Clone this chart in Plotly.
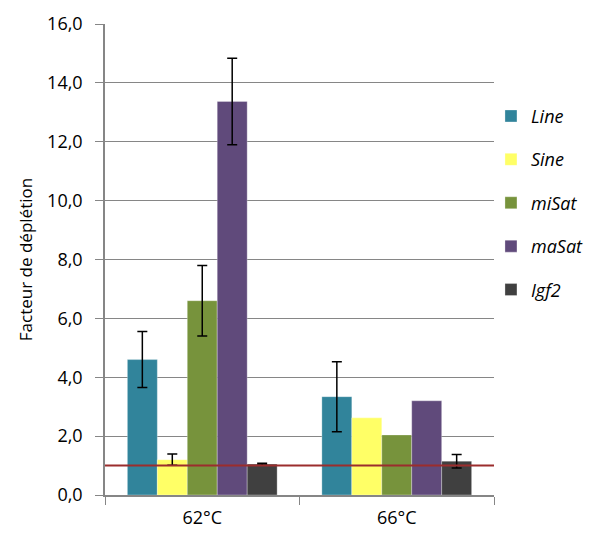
import plotly.graph_objects as go

categories = ["62°C", "66°C"]
series_names = ["Line", "Sine", "miSat", "maSat", "Igf2"]
line_vals = [4.6, 3.34]
sine_vals = [1.2, 2.62]
misat_vals = [6.6, 2.04]
masat_vals = [13.37, 3.2]
igf2_vals = [1.05, 1.15]
line_err = [0.95, 1.19]
sine_err = [0.19, None]
misat_err = [1.2, None]
masat_err = [1.47, None]
igf2_err = [0.03, 0.23]
reference_level = 1.0
y_ticks = [0, 2, 4, 6, 8, 10, 12, 14, 16]
y_tick_labels = ["0,0", "2,0", "4,0", "6,0", "8,0", "10,0", "12,0", "14,0", "16,0"]

colors = ["#31849B", "#FFFF66", "#77933C", "#604A7B", "#404040"]
values = [line_vals, sine_vals, misat_vals, masat_vals, igf2_vals]
errors = [line_err, sine_err, misat_err, masat_err, igf2_err]

font = "'Open Sans', sans-serif"
fig = go.Figure()
for name, v, e, c in zip(series_names, values, errors, colors):
    # missing error values become NaN in the browser so no bar is drawn
    err = [x if x is not None else "NaN" for x in e]
    fig.add_trace(go.Bar(
        x=categories, y=v, name=name,
        marker=dict(color=c, line=dict(color="rgba(255,255,255,0.6)", width=0.5)),
        error_y=dict(type="data", array=err, visible=True, color="black", thickness=1.5, width=5),
        legendgroup=name,
    ))

fig.add_shape(type="line", xref="paper", yref="y", x0=0, x1=1,
              y0=reference_level, y1=reference_level,
              line=dict(color="#9B2D2D", width=2))

fig.update_layout(
    width=585, height=528,
    margin=dict(l=97, r=99, t=16, b=41, autoexpand=False),
    paper_bgcolor="white", plot_bgcolor="white",
    barmode="group", bargap=0.23, bargroupgap=0,
    font=dict(family=font, size=18, color="black"),
    showlegend=True,
    legend=dict(xref="container", yref="container", x=0.8256, y=0.830,
                xanchor="left", yanchor="top",
                font=dict(family=font, size=18, style="italic"),
                tracegroupgap=17, itemwidth=30, bgcolor="rgba(0,0,0,0)"),
    xaxis=dict(showline=True, linecolor="#868686", linewidth=1.5,
               ticks="outside", tickson="boundaries", ticklen=8, tickcolor="#868686",
               ticklabelstandoff=6,
               tickfont=dict(size=18), showgrid=False),
    yaxis=dict(range=[0, 16], tickvals=y_ticks, ticktext=y_tick_labels,
               showline=True, linecolor="#868686", linewidth=1.5,
               ticks="outside", ticklen=8, tickcolor="#868686",
               ticklabelstandoff=9,
               showgrid=True, gridcolor="#868686", gridwidth=1.2,
               zeroline=False, tickfont=dict(size=18),
               title=dict(text="Facteur de déplétion", font=dict(size=17), standoff=10)),
)

fig.write_html("out.html")
